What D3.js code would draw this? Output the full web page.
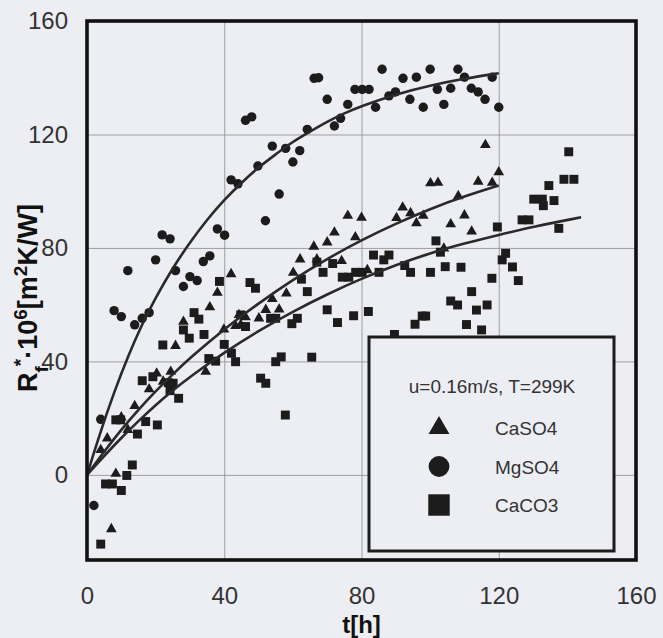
<!DOCTYPE html>
<html>
<head>
<meta charset="utf-8">
<script src="https://cdn.jsdelivr.net/npm/d3@7"></script>
<style>
  body { margin: 0; background: #edeef3; }
  svg { display: block; font-family: "Liberation Sans", Arial, sans-serif; }
</style>
</head>
<body>
<div id="chart"></div>
<script>
// axis ticks
var tTicks = [0, 40, 80, 120, 160];
var rTicks = [0, 40, 80, 120, 160];

// legend
var legendTitle = "u=0.16m/s, T=299K";
var seriesNames = ["CaSO4", "MgSO4", "CaCO3"];

// measured points [t, Rf*]
var caso4 = [[4,8.8],[5.9,12.9],[7.1,-19.1],[8.4,0.4],[10,20.3],[11.9,15.9],[13.9,24.3],[18.1,30.2],
  [20.3,35.8],[22.2,32.9],[24.4,36.4],[25.8,45.5],[28.1,54],[34.6,36.4],[35.8,59.1],[38,64.2],
  [39.9,51.3],[42,70.8],[43.3,52.5],[44.3,56.4],[44.8,52.9],[46.2,55.6],[50.1,55.2],[52.1,58.2],
  [54,62],[56,58.3],[58.1,64],[60.1,71.3],[62.1,76],[66.1,80.5],[67,76],[70,82],[72.1,85.5],
  [74.2,75.4],[76,91.4],[78.2,83.8],[80,90.7],[81.7,72.2],[90.2,90.6],[92,94.3],[94.3,92.3],
  [96,88.7],[98,91.4],[100.1,102.8],[102.3,103],[104,79.8],[106,88.4],[108.2,98.3],[110,91.5],
  [112.1,85.8],[114,103.4],[116.1,116.3],[118.1,103],[120,106.7]];

var mgso4 = [[2,-10.8],[4,19.6],[7.9,57.9],[10,55.8],[11.9,72],[13.9,52.9],[16.1,55.2],[18.1,57.2],
  [20,75.8],[21.9,84.6],[24.2,83.2],[25.8,72],[28.1,66.4],[30,69.9],[32.1,68.5],[33.9,75.2],
  [35.8,77.2],[38,86.7],[40.1,84.5],[42,104],[44,102.6],[46.2,125],[48,126.2],[49.8,108.9],
  [52,89.6],[54,115.9],[56,99],[57.9,115.1],[60,110.3],[62,114.3],[64.2,121.8],[66.2,139.8],
  [67.5,140],[70,132.4],[72.1,123],[73.9,125.7],[76,130.6],[78.1,135.9],[80.2,135.9],[82.2,135.9],
  [84.1,129.6],[86,143],[88,133.6],[89.9,135],[92.1,139.8],[94.1,132.4],[96,140.2],[98,129.6],
  [100,143],[102.1,135.9],[104,130.6],[106,136.3],[108.1,143],[110,140.2],[112,136.3],[114,135],
  [116,132.4],[118.1,140.2],[120,129.6]];

var caco3 = [[4,-24.4],[5.4,-3.2],[7.4,-3.2],[8.4,19.4],[9.8,19.4],[10,-5.5],[11.6,-0.2],[13.2,3.5],
  [14.7,14.4],[16.1,33.2],[17.1,18.8],[19.2,34.6],[20.5,17.6],[22.1,45.8],[23.7,32.5],[24.2,29.7],
  [25.1,32.3],[26.7,27],[28.1,51.1],[29.8,48.2],[31.2,57.2],[32.6,54.9],[34.1,49.5],[35.5,41],
  [37.5,40.1],[38.6,68.2],[40,46],[42.1,42.9],[43.3,39.9],[44.8,56.4],[46.2,52.3],[47.5,67.8],
  [49.1,65.8],[50.6,34.1],[52.1,32.3],[53.5,55.2],[55,55.2],[55,39.9],[56.6,41.6],[57.8,21.1],
  [59.7,53.3],[61.3,55.2],[62.5,69],[64.2,64.6],[65.5,41.5],[67,75],[68.8,71.4],[70,58.2],
  [71.6,74.5],[73,53.7],[74.4,69.7],[76.3,69.7],[77.7,56.1],[78.3,71.4],[80.2,71.4],[82,57.6],
  [83.5,77.5],[85.1,71.4],[86.5,75.8],[88,77.5],[89.6,49.5],[92.6,73.8],[94.3,71.4],[95.6,53.1],
  [97.7,56],[98.7,56],[100.1,71.4],[101.7,82.5],[103,78.5],[104.4,73.4],[106,61.3],[108,59.9],
  [109,73.2],[110.6,53],[112.1,64.6],[113.5,58.1],[115,51.1],[116.6,59.9],[118,69.3],[119.6,87.4],
  [121,75.8],[122,78.1],[124,73.3],[125.7,68.5],[126.8,89.9],[128.8,89.9],[130.2,97.2],[132.7,97.2],
  [133,94.9],[134.6,102],[136.1,96.7],[137.5,86.9],[139,104.2],[140.4,113.9],[141.9,104.2]];

// fitted curves
var caso4Fit = [[0,0],[5,8.2],[10,16],[15,23],[20,29.5],[25,35.5],[30,41.2],[40,51.5],[50,60.5],
  [60,68.8],[70,76.2],[80,82.8],[90,88.6],[100,93.8],[110,98.2],[120,102]];
var mgso4Fit = [[0,0],[4,15.5],[8,29.5],[12,42],[16,53],[20,62.5],[25,73],[30,82],[35,90],[40,97],
  [45,103],[50,108.5],[55,113],[60,117.5],[65,121],[70,124.5],[75,127.5],[80,130],[90,134.2],
  [100,137.3],[110,139.7],[120,141.6]];
var caco3Fit = [[0,0],[5,6.7],[10,13.1],[15,19],[20,24.6],[25,29.8],[30,34.6],[40,43.2],[50,50.8],
  [60,57.6],[70,63.7],[80,69.2],[90,74],[100,78.2],[110,81.6],[120,84.6],[130,87.5],[144,90.8]];

function makeChart(){

  var width = 663, height = 638;
  var margin = {left: 87, right: 27, top: 21, bottom: 78};
  var ink = "#1c1c1c";
  var bg = "#edeef3";

  var svg = d3.select("#chart").append("svg")
    .attr("width", width)
    .attr("height", height)
    .style("background", bg);

  var x = d3.scaleLinear().domain([0, 160]).range([margin.left, width - margin.right]);
  var y = d3.scaleLinear().domain([-30, 160]).range([height - margin.bottom, margin.top]);

  var plotW = x.range()[1] - x.range()[0];
  var plotH = y.range()[0] - y.range()[1];

  // x axis + vertical grid
  var xAxis = svg.append("g")
    .attr("transform", "translate(0," + y.range()[0] + ")")
    .call(d3.axisBottom(x).tickValues(tTicks).tickSize(-plotH).tickPadding(27));
  xAxis.select(".domain").remove();
  xAxis.selectAll("line").attr("stroke", "#8a8a8a").attr("stroke-width", 0.8);
  xAxis.selectAll("text").style("font-size", "24px").attr("fill", "#333");

  // y axis + horizontal grid
  var yAxis = svg.append("g")
    .attr("transform", "translate(" + x.range()[0] + ",0)")
    .call(d3.axisLeft(y).tickValues(rTicks).tickSize(-plotW).tickPadding(19));
  yAxis.select(".domain").remove();
  yAxis.selectAll("line").attr("stroke", "#8a8a8a").attr("stroke-width", 0.8);
  yAxis.selectAll("text").style("font-size", "24px").attr("fill", "#333");

  // markers
  var shapes = [d3.symbolTriangle, d3.symbolCircle, d3.symbolSquare];
  var sizes = [50, 70, 80];
  var allData = [caso4, mgso4, caco3];

  allData.forEach(function(pts, i){
    svg.append("g")
      .selectAll("path")
      .data(pts)
      .enter()
      .append("path")
      .attr("transform", d => "translate(" + x(d[0]) + "," + y(d[1]) + ")")
      .attr("d", d3.symbol().type(shapes[i]).size(sizes[i]))
      .attr("fill", ink);
  });

  // fitted lines
  var line = d3.line()
    .x(d => x(d[0]))
    .y(d => y(d[1]))
    .curve(d3.curveBasis);

  [caso4Fit, mgso4Fit, caco3Fit].forEach(function(fit){
    svg.append("path")
      .datum(fit)
      .attr("d", line)
      .attr("fill", "none")
      .attr("stroke", "#2a2a2a")
      .attr("stroke-width", 2.6);
  });

  // frame
  svg.append("rect")
    .attr("x", x.range()[0])
    .attr("y", y.range()[1])
    .attr("width", plotW)
    .attr("height", plotH)
    .attr("fill", "none")
    .attr("stroke", "#111")
    .attr("stroke-width", 3.6);

  // legend box
  var lg = svg.append("g").attr("transform", "translate(369,337)");
  lg.append("rect")
    .attr("width", 245)
    .attr("height", 214)
    .attr("fill", bg)
    .attr("stroke", ink)
    .attr("stroke-width", 3);

  lg.append("text")
    .attr("x", 123)
    .attr("y", 56)
    .attr("text-anchor", "middle")
    .style("font-size", "19px")
    .attr("fill", "#333")
    .text(legendTitle);

  var legSizes = [190, 340, 460];
  seriesNames.forEach(function(name, i){
    var cy = 91 + i * 38.5;
    lg.append("path")
      .attr("transform", "translate(70," + cy + ")")
      .attr("d", d3.symbol().type(shapes[i]).size(legSizes[i]))
      .attr("fill", ink);
    lg.append("text")
      .attr("x", 126)
      .attr("y", cy + 7)
      .style("font-size", "19px")
      .attr("fill", "#333")
      .text(name);
  });

  // axis titles
  svg.append("text")
    .attr("x", (x.range()[0] + x.range()[1]) / 2)
    .attr("y", 633)
    .attr("text-anchor", "middle")
    .style("font-size", "24px")
    .style("font-weight", "bold")
    .attr("fill", "#111")
    .text("t[h]");

  var yt = svg.append("text")
    .attr("transform", "translate(37,392) rotate(-90)")
    .style("font-size", "27px")
    .style("font-weight", "bold")
    .attr("fill", "#111");
  yt.append("tspan").text("R");
  yt.append("tspan").attr("baseline-shift", "sub").style("font-size", "19px").text("f");
  yt.append("tspan").attr("baseline-shift", "super").style("font-size", "19px").text("*");
  yt.append("tspan").text("·10");
  yt.append("tspan").attr("baseline-shift", "super").style("font-size", "19px").text("6");
  yt.append("tspan").text("[m");
  yt.append("tspan").attr("baseline-shift", "super").style("font-size", "19px").text("2");
  yt.append("tspan").text("K/W]");
}

makeChart();
</script>
</body>
</html>
